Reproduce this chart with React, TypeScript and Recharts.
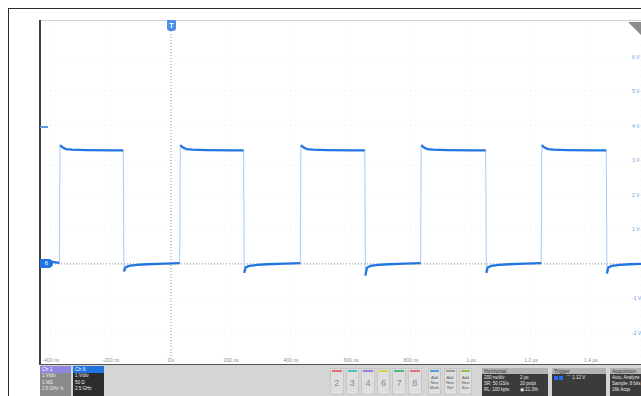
import { LineChart, Line, XAxis, YAxis, CartesianGrid, ReferenceLine } from "recharts"

const FONT = "'Liberation Sans', Arial, sans-serif"

// horizontal axis (ns) and vertical axis (V)
const timeTicksNs = [-400, -200, 0, 200, 400, 600, 800, 1000, 1200, 1400]
const timeTickLabels = ["-400 ns", "-200 ns", "0 s", "200 ns", "400 ns", "600 ns", "800 ns", "1 µs", "1.2 µs", "1.4 µs"]
const voltTicks = [-2, -1, 0, 1, 2, 3, 4, 5, 6, 7]
const voltTickLabels = ["-2 V", "-1 V", "", "1 V", "2 V", "3 V", "4 V", "5 V", "6 V", ""]

// Ch 6 trace
const traceTimeNs = [
  -437, -415, -395, -380, -372,
  -370, -362, -350, -330, -280, -200, -159,
  -157, -152, -140, -115, -80, -20, 29,
  31, 39, 51, 71, 120, 200, 242,
  244, 249, 261, 286, 321, 380, 431,
  433, 441, 453, 473, 520, 600, 646,
  648, 653, 665, 690, 725, 780, 832,
  834, 842, 854, 874, 920, 1000, 1049,
  1051, 1056, 1068, 1093, 1128, 1180, 1234,
  1236, 1244, 1256, 1276, 1320, 1400, 1451,
  1453, 1458, 1470, 1495, 1530, 1567,
]
const traceVolts = [
  0.03, 0.04, 0.06, 0.04, 0.03,
  3.44, 3.38, 3.33, 3.31, 3.3, 3.29, 3.29,
  -0.22, -0.1, -0.06, -0.03, -0.01, 0.01, 0.02,
  3.44, 3.38, 3.33, 3.31, 3.3, 3.29, 3.29,
  -0.26, -0.1, -0.06, -0.03, -0.01, 0.01, 0.02,
  3.44, 3.38, 3.33, 3.31, 3.3, 3.29, 3.29,
  -0.34, -0.11, -0.06, -0.03, -0.01, 0.01, 0.02,
  3.44, 3.38, 3.33, 3.31, 3.3, 3.29, 3.29,
  -0.26, -0.1, -0.06, -0.03, -0.01, 0.01, 0.02,
  3.44, 3.38, 3.33, 3.31, 3.3, 3.29, 3.29,
  -0.28, -0.1, -0.06, -0.03, -0.01, 0.0,
]

const digitalButtons = ["2", "3", "4", "6", "7", "8"]
const digitalColors = ["#e07070", "#4cc3b3", "#9a7ad8", "#d6d24a", "#4fb873", "#e06f8f"]

const edgeData = traceTimeNs.map((t, i) => ({ t, v: traceVolts[i] }))

// thick trace only on the flat parts, broken at every edge
const flatData: { t: number; v: number | null }[] = []
edgeData.forEach((p, i) => {
  if (i > 0 && Math.abs(p.v - edgeData[i - 1].v) > 1) {
    flatData.push({ t: (p.t + edgeData[i - 1].t) / 2, v: null })
  }
  flatData.push(p)
})

const XTick = (props: any) => {
  const i = timeTicksNs.indexOf(props.payload.value)
  return (
    <text x={props.x} y={342} textAnchor="middle" fontSize={5} fill="#8f8f8f" fontFamily={FONT}>
      {timeTickLabels[i]}
    </text>
  )
}

const YTick = (props: any) => {
  const i = voltTicks.indexOf(props.payload.value)
  return (
    <text x={592} y={props.y + 2} textAnchor="start" fontSize={5} fill="#6f9edc" fontFamily={FONT}>
      {voltTickLabels[i]}
    </text>
  )
}

function Panel({ left, width, title, children }: any) {
  return (
    <div style={{ position: "absolute", left, top: 3, width, height: 28 }}>
      <div style={{ height: 6, background: "#b3b3b3", color: "#333", fontSize: 5, lineHeight: "6px", paddingLeft: 2 }}>
        {title}
      </div>
      <div style={{ height: 22, background: "#3b3b3b", color: "#e8e8e8", fontSize: 4.5, lineHeight: "6px", padding: "1px 2px", boxSizing: "border-box", position: "relative" }}>
        {children}
      </div>
    </div>
  )
}

export default function App() {
  return (
    <div style={{ position: "fixed", left: 0, top: 0, width: 641, height: 396, overflow: "hidden", background: "#fff", fontFamily: FONT }}>
      {/* outer frame */}
      <div style={{ position: "absolute", left: 8, top: 8, width: 700, height: 420, border: "1.5px solid #2b2b2b", boxSizing: "border-box" }} />

      {/* plot */}
      <div style={{ position: "absolute", left: 40, top: 20 }}>
        <LineChart width={601} height={345} margin={{ top: 0, right: 0, bottom: 0, left: 0 }}>
          <CartesianGrid stroke="#eceef2" strokeDasharray="1 4" />
          <XAxis
            type="number"
            dataKey="t"
            domain={[-436.7, 1566.7]}
            allowDataOverflow
            ticks={timeTicksNs}
            interval={0}
            mirror
            height={12}
            axisLine={false}
            tickLine={false}
            tick={<XTick />}
          />
          <YAxis
            type="number"
            orientation="right"
            domain={[-2.93, 7.07]}
            allowDataOverflow
            ticks={voltTicks}
            interval={0}
            mirror
            width={12}
            axisLine={false}
            tickLine={false}
            tick={<YTick />}
          />
          <ReferenceLine x={0} stroke="#9a9a9a" strokeDasharray="1 2" />
          <ReferenceLine y={0} stroke="#8a8a8a" strokeDasharray="1 2" />
          <Line data={edgeData} dataKey="v" stroke="#a9cbf3" strokeWidth={1} dot={false} isAnimationActive={false} />
          <Line data={flatData} dataKey="v" stroke="#2276e2" strokeWidth={2.3} dot={false} isAnimationActive={false} />
        </LineChart>
      </div>

      {/* plot borders */}
      <div style={{ position: "absolute", left: 40, top: 20, width: 601, height: 1, background: "#d0d0d0" }} />
      <div style={{ position: "absolute", left: 39, top: 20, width: 1.5, height: 345, background: "#3a3f4a" }} />
      <div style={{ position: "absolute", left: 40, top: 126, width: 8, height: 1.5, background: "#5b9be0" }} />

      {/* trigger position marker */}
      <div style={{ position: "absolute", left: 167, top: 20, width: 9, height: 11, background: "#4a8fe3", borderRadius: "1px 1px 3px 3px", color: "#fff", fontSize: 7, lineHeight: "11px", textAlign: "center", fontWeight: "bold" }}>T</div>

      {/* ground marker */}
      <div style={{ position: "absolute", left: 40, top: 259, width: 13, height: 9, background: "#1f74e0", borderRadius: "0 5px 5px 0", color: "#fff", fontSize: 6, lineHeight: "9px", textAlign: "center" }}>6</div>

      {/* corner triangle */}
      <svg style={{ position: "absolute", left: 627, top: 22 }} width={14} height={14}>
        <polygon points="1,0 14,0 14,13" fill="#8c8c8c" />
      </svg>

      {/* status bar */}
      <div style={{ position: "absolute", left: 40, top: 364, width: 601, height: 32, background: "#d5d5d5", borderTop: "1.5px solid #555", boxSizing: "border-box" }}>
        <div style={{ position: "absolute", left: 0, top: 1, width: 31, height: 30 }}>
          <div style={{ height: 7, background: "#8f86dd", color: "#fff", fontSize: 5, lineHeight: "7px", paddingLeft: 2 }}>Ch 1</div>
          <div style={{ height: 23, background: "#8b8b8b", color: "#eee", fontSize: 4.5, lineHeight: "6.5px", paddingLeft: 2 }}>
            <div>1 V/div</div>
            <div>1 MΩ</div>
            <div>2.5 GHz ✎</div>
          </div>
        </div>
        <div style={{ position: "absolute", left: 33, top: 1, width: 31, height: 30 }}>
          <div style={{ height: 7, background: "#1f74e0", color: "#fff", fontSize: 5, lineHeight: "7px", paddingLeft: 2 }}>Ch 6</div>
          <div style={{ height: 23, background: "#2d2d2d", color: "#eee", fontSize: 4.5, lineHeight: "6.5px", paddingLeft: 2 }}>
            <div>1 V/div</div>
            <div>50 Ω</div>
            <div>2.5 GHz</div>
          </div>
        </div>

        {digitalButtons.map((d, i) => (
          <div key={d} style={{ position: "absolute", left: 290 + i * 15.6, top: 3, width: 13.5, height: 27, background: "#dedede", border: "1px solid #c6c6c6", boxSizing: "border-box" }}>
            <div style={{ height: 1.5, background: digitalColors[i], margin: "1px 1px 0" }} />
            <div style={{ textAlign: "center", fontSize: 9, color: "#8a8a8a", marginTop: 6 }}>{d}</div>
          </div>
        ))}

        {[["Math", "#5b9bd5"], ["Ref", "#a0a0a0"], ["Bus", "#8fbf5a"]].map(([name, c], i) => (
          <div key={name} style={{ position: "absolute", left: 388 + i * 15.5, top: 3, width: 13, height: 27, background: "#dedede", border: "1px solid #c6c6c6", boxSizing: "border-box", textAlign: "center", fontSize: 4, lineHeight: "5px", color: "#555" }}>
            <div style={{ height: 1.5, background: c, margin: "1px 1px 3px" }} />
            <div>Add</div>
            <div>New</div>
            <div>{name}</div>
          </div>
        ))}

        <Panel left={442} width={66} title="Horizontal">
          <div style={{ display: "flex", justifyContent: "space-between" }}><span>200 ns/div</span><span style={{ width: 26 }}>2 µs</span></div>
          <div style={{ display: "flex", justifyContent: "space-between" }}><span>SR: 50 GS/s</span><span style={{ width: 26 }}>20 ps/pt</span></div>
          <div style={{ display: "flex", justifyContent: "space-between" }}><span>RL: 100 kpts</span><span style={{ width: 26 }}>◉ 21.3%</span></div>
        </Panel>
        <Panel left={512} width={54} title="Trigger">
          <div style={{ display: "flex", alignItems: "center", gap: 3 }}>
            <span style={{ display: "inline-block", width: 4, height: 4, background: "#2a6cf0" }} />
            <span style={{ display: "inline-block", width: 4, height: 4, background: "#2a6cf0", marginLeft: -2 }} />
            <span>⌒ 1.12 V</span>
          </div>
        </Panel>
        <Panel left={570} width={40} title="Acquisition">
          <div>Auto,  Analyze</div>
          <div>Sample: 8 bits</div>
          <div>16k Acqs</div>
        </Panel>
      </div>
    </div>
  )
}
